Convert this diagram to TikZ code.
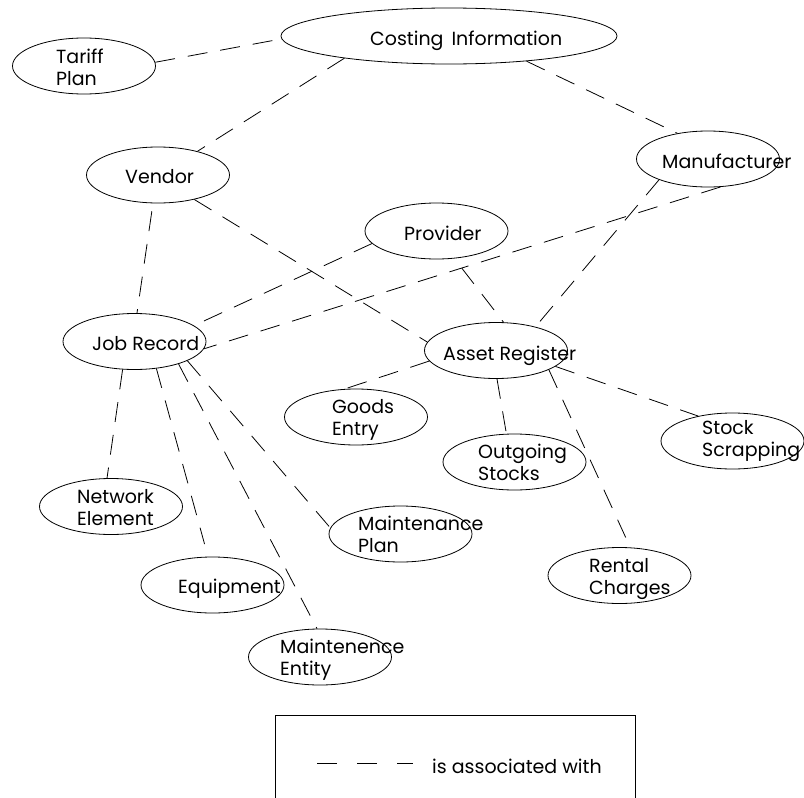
\documentclass[tikz,border=0pt]{standalone}
\usepackage{fontspec}
\setmainfont{Poppins}
\usetikzlibrary{shapes.geometric}
\begin{document}
\begin{tikzpicture}[x=1pt,y=-1pt,
  ent/.style={draw, ellipse, inner sep=0pt, line width=0.8pt,
    minimum width=143pt, minimum height=56pt},
  lbl/.style={anchor=base west, inner sep=0pt, align=left,
    font=\fontsize{19}{22}\selectfont},
  assoc/.style={draw, line width=0.8pt, dash pattern=on 20pt off 13pt}]
\useasboundingbox (0,0) rectangle (804,798);

% entities
\node[ent, minimum width=336pt] (cost) at (449,36) {};
\node[ent] (tariff) at (84,66) {};
\node[ent] (vendor) at (158,175) {};
\node[ent] (mfr) at (708,159) {};
\node[ent] (prov) at (436.5,231) {};
\node[ent] (job) at (134.5,341.5) {};
\node[ent] (asset) at (496,350.5) {};
\node[ent] (goods) at (356,417) {};
\node[ent] (out) at (514.5,462) {};
\node[ent] (scrap) at (732.5,441) {};
\node[ent] (net) at (111,506.5) {};
\node[ent] (mplan) at (400.5,534) {};
\node[ent] (equip) at (212.5,585) {};
\node[ent] (ment) at (320,657) {};
\node[ent] (rental) at (619.5,575.5) {};

% entity names (two-line names are placed by the baseline of their last line)
\node[lbl] (tcost) at (370,45) {Costing\hspace{0.42em}Information};
\node[lbl] (ttariff) at (56,85) {Tariff\\Plan};
\node[lbl] (tvendor) at (125,183) {Vendor};
\node[lbl] (tmfr) at (662,168) {Manufacturer};
\node[lbl] (tprov) at (404,240) {Provider};
\node[lbl] (tjob) at (92,350) {Job Record};
\node[lbl] (tasset) at (443,360) {Asset Register};
\node[lbl] (tgoods) at (332,435) {Goods\\Entry};
\node[lbl] (tout) at (478,480) {Outgoing\\Stocks};
\node[lbl] (tscrap) at (702,456) {Stock\\Scrapping};
\node[lbl] (tnet) at (77,525) {Network\\Element};
\node[lbl] (tmplan) at (358,552) {Maintenance\\Plan};
\node[lbl] (tequip) at (178,593) {Equipment};
\node[lbl] (tment) at (280,675) {Maintenence\\Entity};
\node[lbl] (trental) at (589,594) {Rental\\Charges};

% associations
\path[assoc] (tariff.3) -- (cost.181);
\path[assoc] (cost.192.5) -- (vendor.31);
\path[assoc] (cost.342.5) -- (mfr.140);
\path[assoc, shorten <=8pt] (vendor.260) -- (job.85);
\path[assoc] (vendor.326.6) -- (asset.173.5);
\path[assoc] (prov.191) -- (job.15.5);
\path[assoc, shorten <=12pt] (prov.303) -- (asset.75.7);
\path[assoc] (mfr.294) -- (job.354);
\path[assoc] (mfr.203.4) -- (asset.31.3);
\path[assoc] (asset.189) -- (goods.112);
\path[assoc] (asset.272) -- (out.106);
\path[assoc] (asset.345.5) -- (scrap.144.8);
\path[assoc, shorten >=11pt] (asset.340.6) -- (rental.69);
\path[assoc] (job.247) -- (net.98.5);
\path[assoc, shorten >=13pt] (job.309) -- (equip.99);
\path[assoc] (job.333.2) -- (ment.96);
\path[assoc] (job.340) -- (mplan.175);

% legend
\draw[line width=0.8pt] (275,798) -- (275,715) -- (635,715) -- (635,798);
\coordinate (ka) at (317,763);
\coordinate (kb) at (413,763);
\path[draw, line width=0.8pt, dash pattern=on 20pt off 20pt] (ka) -- (kb);
\node[lbl] (tkey) at (432,773) {is associated with};
\end{tikzpicture}
\end{document}
